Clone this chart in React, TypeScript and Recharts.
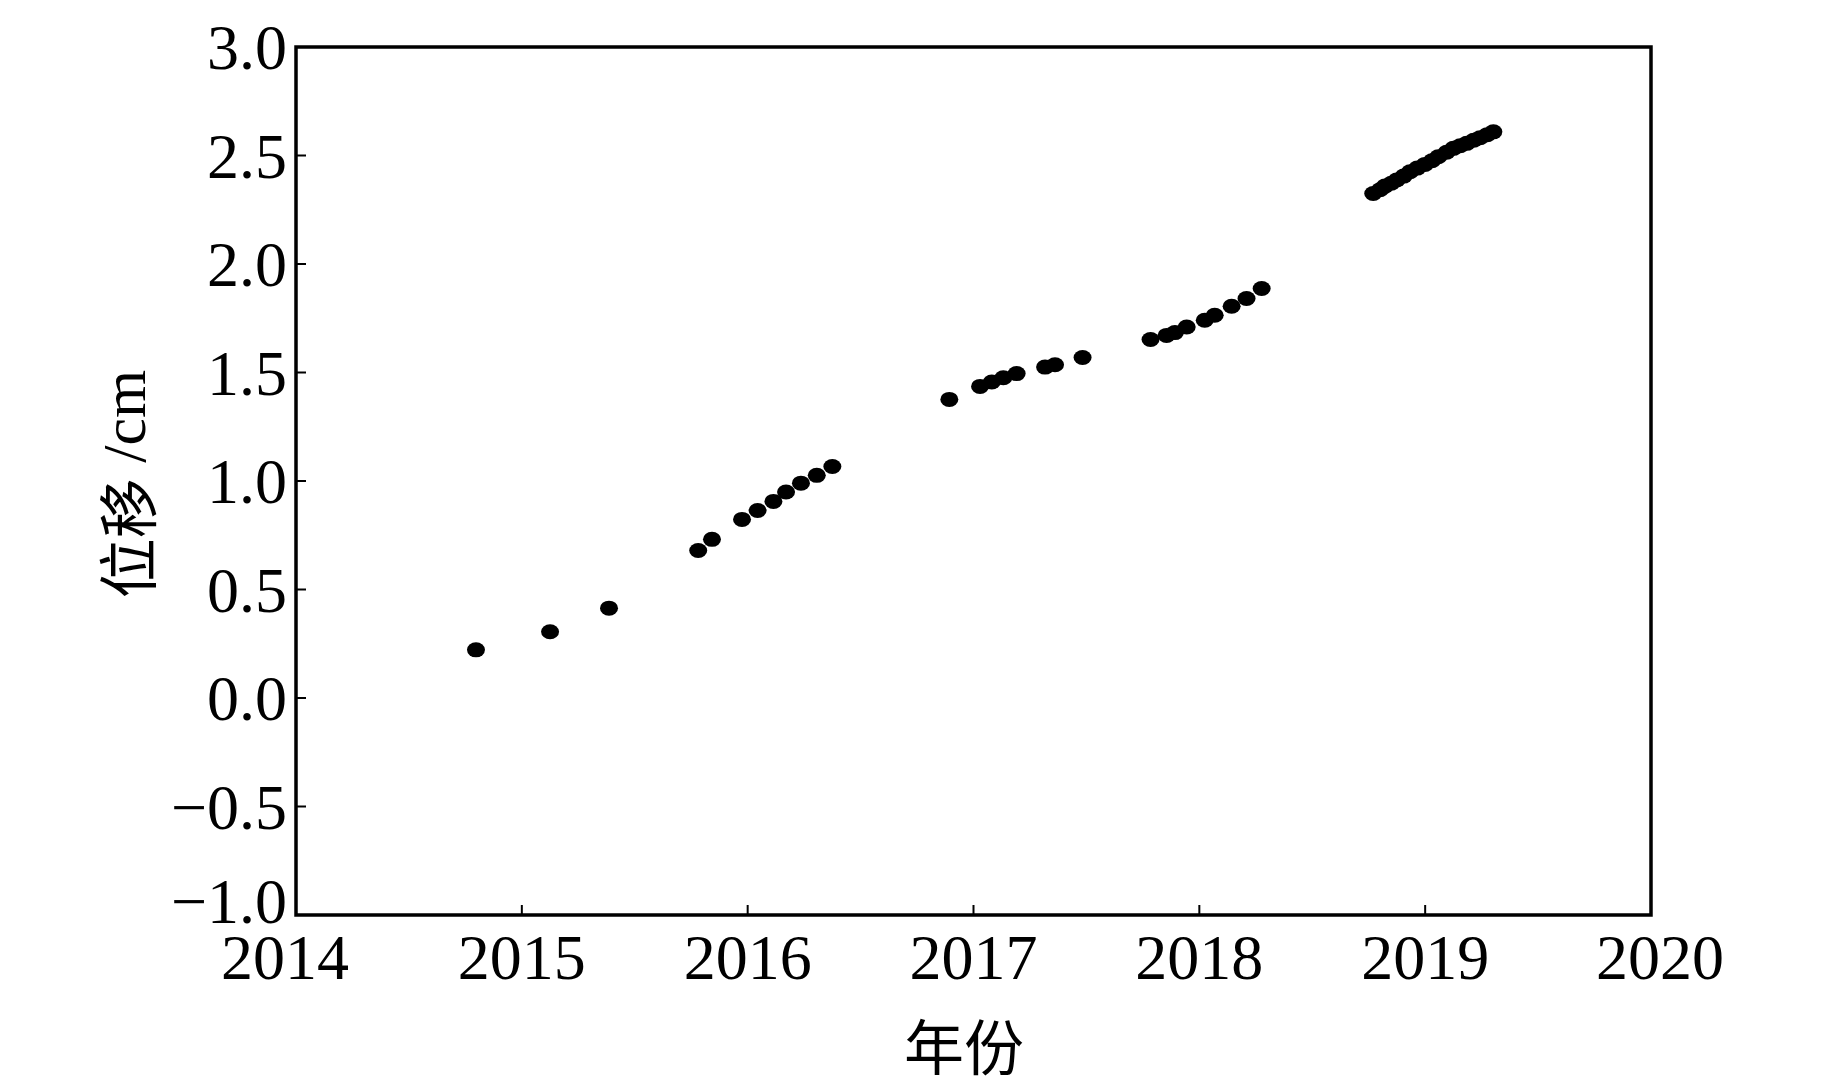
import { ScatterChart, Scatter, XAxis, YAxis, Label, ReferenceArea } from "recharts"

const SERIF = "'Liberation Serif', Tinos, 'Times New Roman', Times, serif"
const CJK = "'Noto Sans CJK SC', 'Noto Sans CJK JP', sans-serif"

// 观测时间（年）
const years = [
  2014.797, 2015.125, 2015.386, 2015.781, 2015.842, 2015.975, 2016.044, 2016.114,
  2016.17, 2016.236, 2016.306, 2016.375,
  2016.893, 2017.029, 2017.081, 2017.132, 2017.191, 2017.317, 2017.361, 2017.483,
  2017.784, 2017.855, 2017.892, 2017.944, 2018.024, 2018.068, 2018.143, 2018.209, 2018.276,
  2018.77, 2018.8, 2018.822, 2018.85, 2018.874, 2018.905, 2018.933, 2018.965, 2018.999,
  2019.03, 2019.058, 2019.095, 2019.125, 2019.155, 2019.184, 2019.215, 2019.243, 2019.275,
  2019.302,
]

// 位移 (cm)
const displacement = [
  0.222, 0.305, 0.414, 0.68, 0.731, 0.823, 0.864, 0.906, 0.949, 0.99, 1.026, 1.067,
  1.376, 1.436, 1.456, 1.476, 1.495, 1.525, 1.536, 1.569,
  1.652, 1.671, 1.684, 1.71, 1.741, 1.764, 1.805, 1.841, 1.887,
  2.325, 2.342, 2.359, 2.372, 2.387, 2.405, 2.425, 2.442, 2.459, 2.476, 2.494, 2.515,
  2.533, 2.545, 2.556, 2.57, 2.582, 2.596, 2.609,
]

const xTicks = [2014, 2015, 2016, 2017, 2018, 2019, 2020]
const yTicks = [-1, -0.5, 0, 0.5, 1, 1.5, 2, 2.5, 3]

const data = years.map((year, i) => ({ year, value: displacement[i] }))

function XTick(props: any) {
  const { x, y, payload, index } = props
  const shift = index === 0 ? -11 : index === xTicks.length - 1 ? 9 : 0
  return (
    <g>
      <line x1={x} y1={y} x2={x} y2={y - 10} stroke="#000" strokeWidth={2} />
      <text
        x={x + shift}
        y={y + 64}
        textAnchor="middle"
        style={{ fontFamily: SERIF, fontSize: 64 }}
        fill="#000"
      >
        {payload.value}
      </text>
    </g>
  )
}

function YTick(props: any) {
  const { x, y, payload, index } = props
  const v = payload.value as number
  const label = v < 0 ? `\u2212${Math.abs(v).toFixed(1)}` : v.toFixed(1)
  const shift = index === 0 ? -14 : 0
  return (
    <g>
      <line x1={x} y1={y} x2={x + 10} y2={y} stroke="#000" strokeWidth={2} />
      <text
        x={x - 9}
        y={y + shift}
        dy="0.35em"
        textAnchor="end"
        style={{ fontFamily: SERIF, fontSize: 64 }}
        fill="#000"
      >
        {label}
      </text>
    </g>
  )
}

function Dot(props: any) {
  const { cx, cy } = props
  return <ellipse cx={cx} cy={cy} rx={9} ry={7.5} fill="#000" />
}

export default function App() {
  return (
    <div style={{ position: "absolute", left: 0, top: 0, background: "#fff" }}>
      <ScatterChart width={1843} height={1087} margin={{ top: 47, right: 192, bottom: 0, left: 0 }}>
        <XAxis
          type="number"
          dataKey="year"
          domain={[2014, 2020]}
          ticks={xTicks}
          allowDataOverflow
          height={172}
          tickSize={0}
          tickMargin={0}
          tickLine={false}
          axisLine={false}
          tick={<XTick />}
          interval={0}
        >
          <Label
            content={() => (
              <text x={964} y={1070} textAnchor="middle" style={{ fontFamily: CJK, fontSize: 60 }} fill="#000">
                年份
              </text>
            )}
          />
        </XAxis>
        <YAxis
          type="number"
          dataKey="value"
          domain={[-1, 3]}
          ticks={yTicks}
          allowDataOverflow
          width={296}
          tickSize={0}
          tickMargin={0}
          tickLine={false}
          axisLine={false}
          tick={<YTick />}
          interval={0}
        >
          <Label
            content={() => (
              <text
                x={124}
                y={484}
                transform="rotate(-90, 124, 484)"
                textAnchor="middle"
                dominantBaseline="central"
                style={{ fontSize: 62 }}
                fill="#000"
              >
                <tspan style={{ fontFamily: CJK, fontSize: 60 }}>位移</tspan>
                <tspan style={{ fontFamily: SERIF }}> /cm</tspan>
              </text>
            )}
          />
        </YAxis>
        <ReferenceArea
          x1={2014}
          x2={2020}
          y1={-1}
          y2={3}
          fill="none"
          fillOpacity={0}
          stroke="#000"
          strokeWidth={3.5}
          ifOverflow="visible"
        />
        <Scatter data={data} shape={<Dot />} isAnimationActive={false} />
      </ScatterChart>
    </div>
  )
}
